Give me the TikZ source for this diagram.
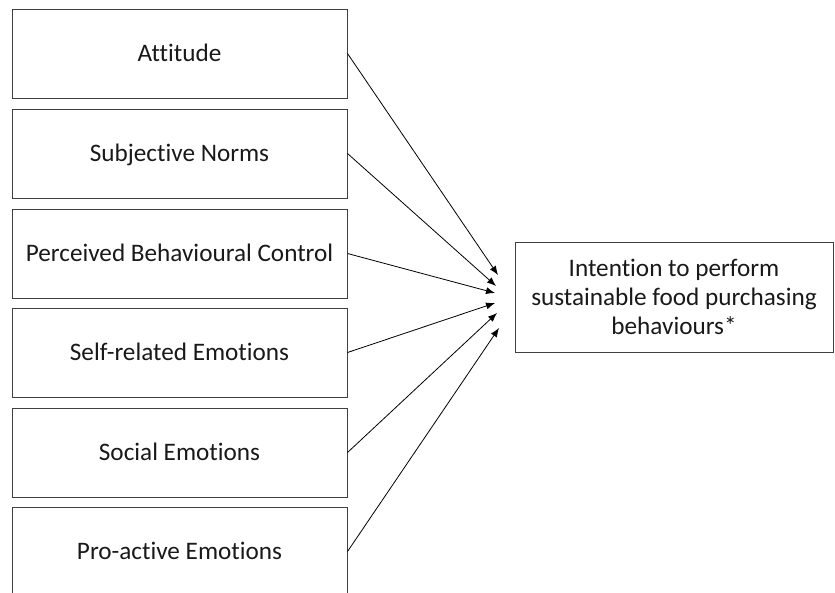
\documentclass[tikz,border=0pt]{standalone}
\usepackage{fontspec}
\setmainfont{Carlito}[Ligatures=NoCommon]
\usetikzlibrary{arrows.meta}
\begin{document}
\begin{tikzpicture}[x=1pt,y=-1pt,
  lbox/.style={draw=black!75,line width=1pt,minimum width=335pt,minimum height=89pt,inner sep=0pt,
    text=black!90,text height=16.4pt,text depth=0pt,font=\fontsize{25.2}{29}\selectfont},
  rbox/.style={draw=black!75,line width=1pt,minimum width=318pt,minimum height=110pt,inner sep=0pt,
    text=black!90,align=center,font=\fontsize{25.2}{29}\selectfont},
  link/.style={draw=black,line width=0.8pt,-{Latex[length=9pt,width=7pt]}}]
\useasboundingbox (0,0) rectangle (835,592);
\clip (0,0) rectangle (835,592);
\node[lbox] (a) at (179.5,53.5) {Attitude};
\node[lbox] (b) at (179.5,153.5) {Subjective Norms};
\node[lbox] (c) at (179.5,253.5) {Perceived Behavioural Control};
\node[lbox] (d) at (179.5,352.5) {Self-related Emotions};
\node[lbox] (e) at (179.5,452.5) {Social Emotions};
\node[lbox] (f) at (179.5,551.5) {Pro-active Emotions};
\node[rbox] (g) at (674,297) {Intention to perform\\sustainable food purchasing\\behaviours*};
\coordinate (t1) at (498,275);
\coordinate (t2) at (496,286);
\coordinate (t3) at (495,293);
\coordinate (t4) at (495,303);
\coordinate (t5) at (497,313);
\coordinate (t6) at (499,328);
\draw[link] (a.east) -- (t1);
\draw[link] (b.east) -- (t2);
\draw[link] (c.east) -- (t3);
\draw[link] (d.east) -- (t4);
\draw[link] (e.east) -- (t5);
\draw[link] (f.east) -- (t6);
\end{tikzpicture}
\end{document}
